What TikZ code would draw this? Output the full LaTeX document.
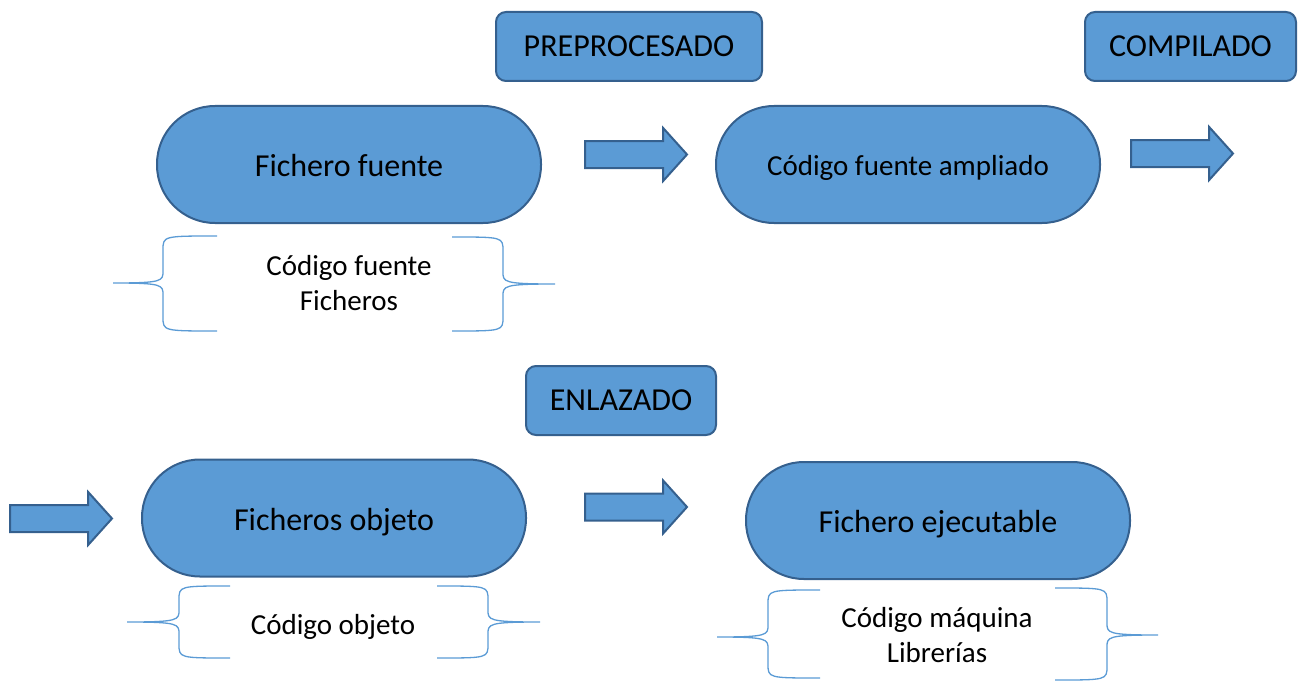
\documentclass[tikz,border=0pt]{standalone}
\usepackage{fontspec}
\setmainfont{Carlito}
\usetikzlibrary{shapes.arrows}
\definecolor{fillb}{HTML}{5B9BD5}
\definecolor{lineb}{HTML}{35608E}
\definecolor{bracec}{HTML}{5B9BD5}
\newcommand{\mybrace}[6]{% #1 end x, #2 vertical x, #3 tip x, #4 ytop, #5 ytip, #6 ybottom
  \draw[bracel] (#1,#4) .. controls (#2,#4) and (#2,#4) .. (#2,#4+14) -- (#2,#5-12)
    .. controls (#2,#5-2) and (#2,#5) .. (#3,#5)
    .. controls (#2,#5) and (#2,#5+2) .. (#2,#5+12) -- (#2,#6-14)
    .. controls (#2,#6) and (#2,#6) .. (#1,#6);}
\begin{document}
\begin{tikzpicture}[x=1pt,y=-1pt,
  stagebox/.style={draw=lineb, line width=2pt, fill=fillb, rounded corners=10pt,
    minimum height=69pt, inner sep=0pt, font=\fontsize{32}{38}\selectfont},
  pill/.style={draw=lineb, line width=2pt, fill=fillb, rounded corners=58pt,
    minimum width=384pt, minimum height=117pt, inner sep=0pt, text depth=0pt},
  bigtext/.style={font=\fontsize{32}{38}\selectfont, text height=24pt},
  smalltext/.style={font=\fontsize{29}{35}\selectfont, text height=22pt},
  blockarrow/.style={single arrow, draw=lineb, line width=2pt, fill=fillb,
    minimum height=102pt, single arrow head extend=13pt,
    single arrow tip angle=96, inner xsep=0pt, inner ysep=12.5pt, anchor=tail},
  bracel/.style={draw=bracec, line width=1.3pt},
  notetext/.style={align=center, font=\fontsize{29}{35}\selectfont, inner sep=0pt}]
\useasboundingbox (0,0) rectangle (1311,682);

% stage labels
\node[stagebox, minimum width=266pt] (pre) at (629,46.5) {PREPROCESADO};
\node[stagebox, minimum width=211pt] (comp) at (1190.5,46.5) {COMPILADO};
\node[stagebox, minimum width=190pt] (enl) at (621,400.5) {ENLAZADO};

% pills
\node[pill, bigtext] (ff) at (349,164.5) {Fichero fuente};
\node[pill, smalltext] (cfa) at (908,164.5) {Código fuente ampliado};
\node[pill, bigtext] (fo) at (334,518) {Ficheros objeto};
\node[pill, bigtext] (fe) at (938,520.5) {Fichero ejecutable};

% block arrows
\node[blockarrow] (a1) at (584,154.5) {};
\node[blockarrow] (a2) at (1130,153.5) {};
\node[blockarrow] (a3) at (9,518.5) {};
\node[blockarrow] (a4) at (584,507) {};

% braces
\mybrace{217}{163}{113}{236}{283}{331}
\mybrace{452}{503}{555}{237}{284}{331}
\node[notetext] (n1) at (349,283) {Código fuente\\Ficheros};

\mybrace{230}{179}{127}{586}{622}{658}
\mybrace{437}{488}{540}{586}{622}{658}
\node[notetext] (n2) at (333,627) {Código objeto};

\mybrace{820}{768}{717}{590}{637}{678}
\mybrace{1055}{1107}{1158}{588}{635}{680}
\node[notetext] (n3) at (937,635) {Código máquina\\Librerías};
\end{tikzpicture}
\end{document}
